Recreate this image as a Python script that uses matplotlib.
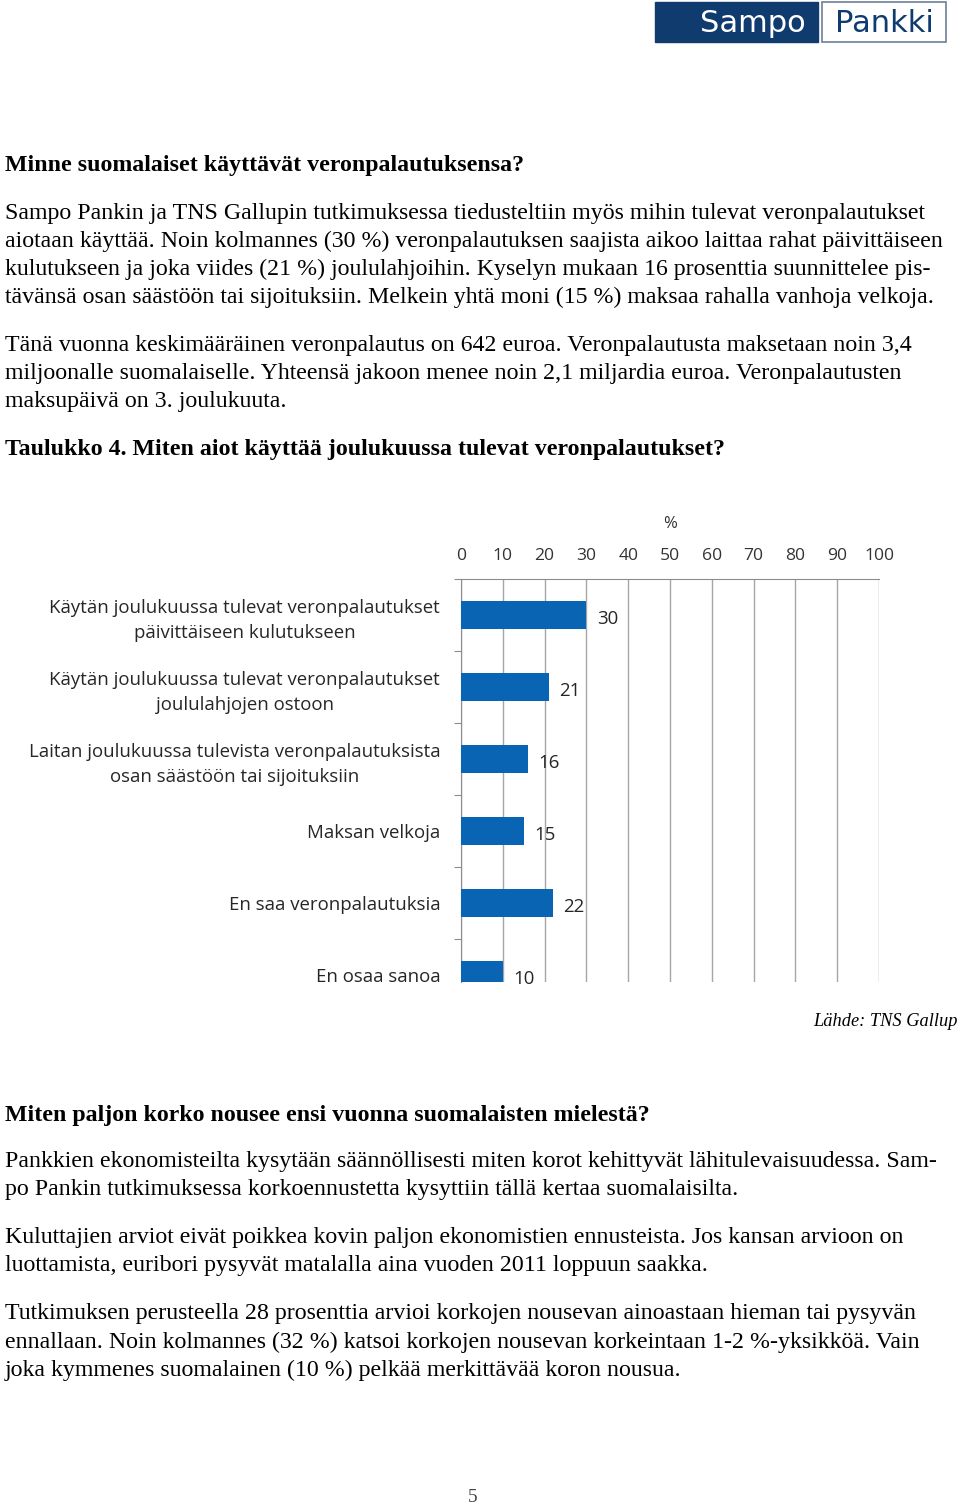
import matplotlib.pyplot as plt
from matplotlib.patches import Rectangle

# chart data
categories = [
    "Käytän joulukuussa tulevat veronpalautukset\npäivittäiseen kulutukseen",
    "Käytän joulukuussa tulevat veronpalautukset\njoululahjojen ostoon",
    "Laitan joulukuussa tulevista veronpalautuksista\nosan säästöön tai sijoituksiin",
    "Maksan velkoja",
    "En saa veronpalautuksia",
    "En osaa sanoa",
]
values = [30, 21, 16, 15, 22, 10]
xticks = [0, 10, 20, 30, 40, 50, 60, 70, 80, 90, 100]

# page text
para1 = [
    "Sampo Pankin ja TNS Gallupin tutkimuksessa tiedusteltiin myös mihin tulevat veronpalautukset",
    "aiotaan käyttää. Noin kolmannes (30 %) veronpalautuksen saajista aikoo laittaa rahat päivittäiseen",
    "kulutukseen ja joka viides (21 %) joululahjoihin. Kyselyn mukaan 16 prosenttia suunnittelee pis-",
    "tävänsä osan säästöön tai sijoituksiin. Melkein yhtä moni (15 %) maksaa rahalla vanhoja velkoja.",
]
para2 = [
    "Tänä vuonna keskimääräinen veronpalautus on 642 euroa. Veronpalautusta maksetaan noin 3,4",
    "miljoonalle suomalaiselle. Yhteensä jakoon menee noin 2,1 miljardia euroa. Veronpalautusten",
    "maksupäivä on 3. joulukuuta.",
]
para3 = [
    "Pankkien ekonomisteilta kysytään säännöllisesti miten korot kehittyvät lähitulevaisuudessa. Sam-",
    "po Pankin tutkimuksessa korkoennustetta kysyttiin tällä kertaa suomalaisilta.",
]
para4 = [
    "Kuluttajien arviot eivät poikkea kovin paljon ekonomistien ennusteista. Jos kansan arvioon on",
    "luottamista, euribori pysyvät matalalla aina vuoden 2011 loppuun saakka.",
]
para5 = [
    "Tutkimuksen perusteella 28 prosenttia arvioi korkojen nousevan ainoastaan hieman tai pysyvän",
    "ennallaan. Noin kolmannes (32 %) katsoi korkojen nousevan korkeintaan 1-2 %-yksikköä. Vain",
    "joka kymmenes suomalainen (10 %) pelkää merkittävää koron nousua.",
]

W, H = 960, 1506
fig = plt.figure(figsize=(9.6, 15.06), dpi=100)
fig.patch.set_facecolor("white")

serif = "Liberation Serif"
sans = "Open Sans"
fs_body = 17.2


def px(x, y):
    return x / W, 1 - y / H


def line(x, y, s, **kw):
    kw.setdefault("family", serif)
    kw.setdefault("fontsize", fs_body)
    kw.setdefault("va", "center")
    fig.text(*px(x, y), s, **kw)


def block(y0, lines, step=28):
    for i, s in enumerate(lines):
        line(5, y0 + i * step, s)


# logo
navy = "#0f3b6e"
fig.patches.append(Rectangle(px(655, 42), 163 / W, 40 / H, transform=fig.transFigure,
                             facecolor=navy, edgecolor=navy))
fig.patches.append(Rectangle(px(822, 42), 124 / W, 40 / H, transform=fig.transFigure,
                             facecolor="white", edgecolor="#6d7f96", lw=1.2))
fig.text(*px(753, 24), "Sampo", color="white", fontsize=22, family="DejaVu Sans",
         ha="center", va="center")
fig.text(*px(884, 24), "Pankki", color=navy, fontsize=22, family="DejaVu Sans",
         ha="center", va="center")

line(5, 165, "Minne suomalaiset käyttävät veronpalautuksensa?", weight="bold")
block(213, para1)
block(345, para2)
line(5, 450, "Taulukko 4. Miten aiot käyttää joulukuussa tulevat veronpalautukset?", weight="bold")

# chart
x0, x1, ytop, ybot = 461, 879, 579, 982
ax = fig.add_axes([x0 / W, 1 - ybot / H, (x1 - x0) / W, (ybot - ytop) / H])
pos = list(range(len(values)))
ax.barh(pos, values, height=0.39, color="#0a64b4", zorder=3)
ax.set_xlim(0, 100)
ax.set_ylim(5.1, -0.5)
ax.xaxis.tick_top()
ax.set_xticks(xticks)
ax.set_xticklabels([str(t) for t in xticks], family=sans, fontsize=12.6, color="#333333")
ax.tick_params(axis="x", length=0, pad=11)
ax.set_xlabel("%", family=sans, fontsize=12, color="#333333", labelpad=14)
ax.xaxis.set_label_position("top")
ax.grid(axis="x", color="#a6a6a6", lw=1, zorder=0)
ax.set_yticks([p + 0.5 for p in pos[:-1]] + [-0.5])
ax.set_yticklabels([])
ax.tick_params(axis="y", length=5, color="#8c8c8c", direction="out")
ax.set_yticks(pos, minor=True)
ax.set_yticklabels(categories, minor=True, family=sans, fontsize=13.4,
                   color="#262626", ha="right", multialignment="center", linespacing=1.5)
ax.tick_params(axis="y", which="minor", length=0, pad=15)
for sp in ["right", "bottom"]:
    ax.spines[sp].set_visible(False)
for sp in ["left", "top"]:
    ax.spines[sp].set_color("#8c8c8c")
for p, v in zip(pos, values):
    ax.text(v + 2.5, p + 0.06, str(v), family=sans, fontsize=13.4, color="#262626",
            va="center", ha="left")

line(958, 1021, "Lähde: TNS Gallup", style="italic", ha="right", fontsize=13.2)

line(5, 1115, "Miten paljon korko nousee ensi vuonna suomalaisten mielestä?", weight="bold")
block(1162, para3)
block(1238, para4)
block(1314, para5)
line(473, 1497, "5", fontsize=14, ha="center", color="#444444")

fig.savefig("out.png", dpi=100, facecolor="white")
